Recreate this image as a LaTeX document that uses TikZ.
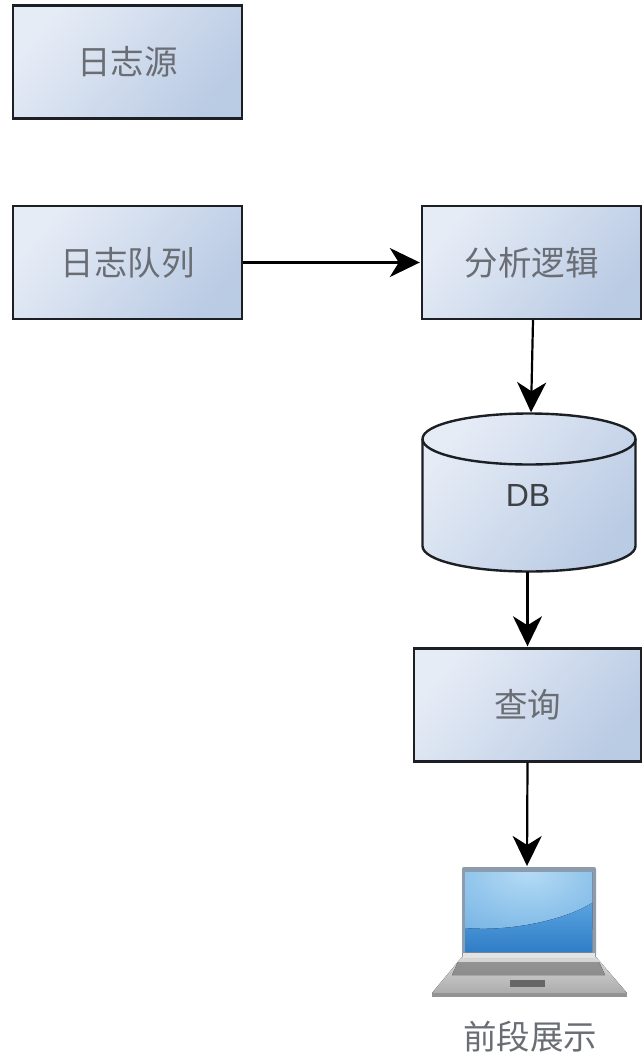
\documentclass[tikz,border=0pt]{standalone}
\usepackage{fontspec}
\newfontfamily\cjkf{Noto Sans CJK SC}[Scale=1]
\setsansfont{Liberation Sans}
\usetikzlibrary{arrows.meta}
\definecolor{boxlt}{HTML}{E6ECF6}
\definecolor{boxdk}{HTML}{BACBE4}
\definecolor{edgec}{HTML}{1C1F24}
\definecolor{txtc}{HTML}{6A6E74}
\definecolor{scrhi}{HTML}{B4DBF5}
\definecolor{scrmid}{HTML}{77B4E4}
\definecolor{scrlowa}{HTML}{5AA3E0}
\definecolor{scrlowb}{HTML}{2F7DC6}
\definecolor{framec}{HTML}{8C9CAC}
\newcommand{\lbl}[1]{\raisebox{-2pt}{#1}}
\tikzset{
  boxfill/.style={top color=boxlt,bottom color=boxdk,shading angle=50},
  procbox/.style={draw=edgec,line width=2.4pt,boxfill,minimum height=113pt,
    inner sep=0pt,text=txtc,font=\cjkf\fontsize{33.5}{38}\selectfont},
  link/.style={draw=black,line width=2.2pt,-{Stealth[length=30pt,width=29pt,inset=9pt]},shorten >=1pt},
  caption/.style={text=txtc,inner sep=0pt,font=\cjkf\fontsize{33.5}{38}\selectfont}
}
\begin{document}
\begin{tikzpicture}[x=1pt,y=-1pt]
\useasboundingbox (0,0) rectangle (641,1058);
\fill[white] (0,0) rectangle (641,1058);
% boxes
\node[procbox,minimum width=229pt] (src) at (127.5,62) {\lbl{日志源}};
\node[procbox,minimum width=229pt] (queue) at (127.5,262.5) {\lbl{日志队列}};
\node[procbox,minimum width=219pt] (logic) at (531.5,262.5) {\lbl{分析逻辑}};
\node[procbox,minimum width=227pt] (query) at (527.5,705) {\lbl{查询}};
% cylinder
\path[draw=edgec,line width=2.4pt,boxfill]
  (422.5,439) .. controls (422.5,424.5) and (470,413.5) .. (529,413.5)
  .. controls (588,413.5) and (635.5,424.5) .. (635.5,439)
  -- (635.5,546) .. controls (635.5,560.5) and (588,571.5) .. (529,571.5)
  .. controls (470,571.5) and (422.5,560.5) .. (422.5,546) -- cycle;
\draw[edgec,line width=2.4pt]
  (422.5,439) .. controls (422.5,453.5) and (470,464.5) .. (529,464.5)
  .. controls (588,464.5) and (635.5,453.5) .. (635.5,439);
\node[minimum width=213pt,minimum height=158pt,inner sep=0pt] (db) at (529,492.5) {};
\node[text=edgec!85!white,inner sep=0pt,font=\sffamily\fontsize{32}{36}\selectfont] (dblabel) at (528,495) {DB};
% laptop
\fill[top color=gray!30,bottom color=gray!65] (462,957) -- (596,957) -- (627,993) -- (432,993) -- cycle;
\fill[gray!85] (432,993) rectangle (627,997);
\fill[top color=gray!85,bottom color=gray!110!black] (458,962) -- (599,962) -- (605,975) -- (452,975) -- cycle;
\fill[gray!80!black] (510,980) rectangle (545,987);
\fill[rounded corners=2pt,fill=framec] (462,867) rectangle (596,958);
\fill[gray!22] (463,953) rectangle (595,958);
\begin{scope}
\clip (465,872) rectangle (592,952);
\fill[inner color=scrhi,outer color=scrmid] (528,872) ellipse (110 and 70);
\fill[top color=scrlowa,bottom color=scrlowb]
  (465,928) .. controls (510,932) and (565,920) .. (592,903) -- (592,952) -- (465,952) -- cycle;
\end{scope}
\node[minimum width=195pt,minimum height=130pt,inner sep=0pt] (laptop) at (529.5,932) {};
\coordinate (laptoptop) at (527,867);
\node[caption] (laptoplabel) at (530,1037) {前段展示};
% connectors
\draw[link] (queue.east) -- (logic.west);
\draw[link] ([xshift=1.5pt]logic.south) -- ([xshift=2pt]db.north);
\draw[link] (db.south -| query.south) -- (query.north);
\draw[link] (query.south) -- (laptoptop);
\end{tikzpicture}
\end{document}
